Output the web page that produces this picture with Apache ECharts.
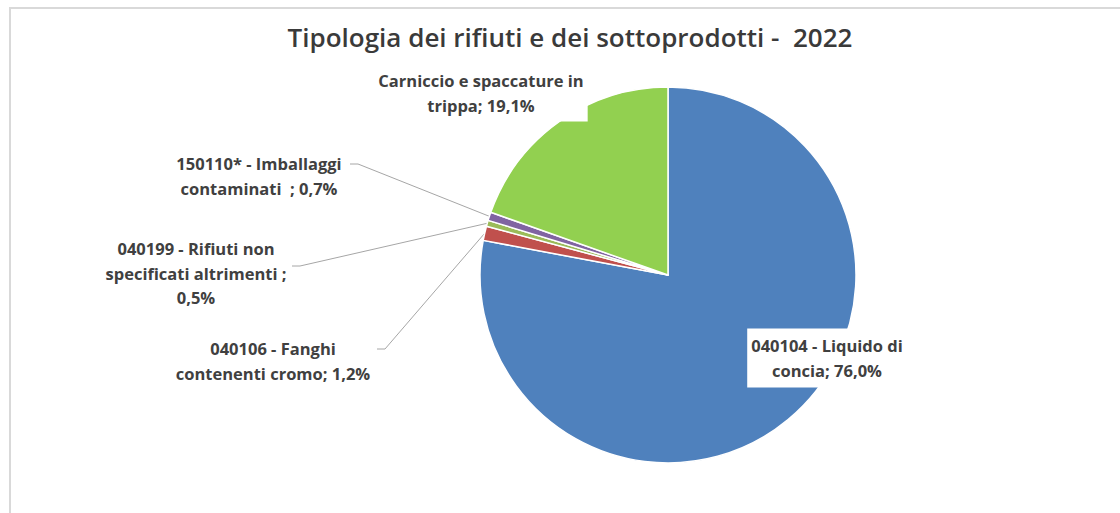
<!DOCTYPE html>
<html>
<head>
<meta charset="utf-8">
<script src="https://cdn.jsdelivr.net/npm/echarts@6/dist/echarts.min.js"></script>
<style>
  html, body { margin: 0; padding: 0; background: #fff; overflow: hidden; }
  #frame { position: absolute; left: 9px; top: 7px; width: 1200px; height: 600px;
           border-top: 2px solid #d9d9d9; border-left: 2px solid #d9d9d9; }
  #chart { position: absolute; left: 0; top: 0; width: 1120px; height: 513px; }
</style>
</head>
<body>
<div id="frame"></div>
<div id="chart"></div>
<script>
  // --- data ---
  var titleText = 'Tipologia dei rifiuti e dei sottoprodotti -  2022';
  var categories = [
    '040104 - Liquido di concia',
    '040106 - Fanghi contenenti cromo',
    '040199 - Rifiuti non specificati altrimenti',
    '150110* - Imballaggi contaminati',
    'Carniccio e spaccature in trippa'
  ];
  var values = [76.0, 1.2, 0.5, 0.7, 19.1];
  var labelHeads = [
    '040104 - Liquido di\nconcia; ',
    '040106 - Fanghi\ncontenenti cromo; ',
    '040199 - Rifiuti non\nspecificati altrimenti ;\n',
    '150110* - Imballaggi\ncontaminati  ; ',
    'Carniccio e spaccature in\ntrippa; '
  ];
  var colors = ['#4f81bd', '#c0504d', '#9bbb59', '#8064a2', '#92d050'];

  // label placement (centre of each label) and leader line start
  var labelPos = [[827, 358], [273, 361], [196, 273], [259, 176], [481, 93]];
  var lineStart = [null, [377, 349], [292, 266], [350, 164], null];

  var ink = '#404040';
  var chart = echarts.init(document.getElementById('chart'), null, { renderer: 'svg' });

  var pieData = categories.map(function(name, i) {
    var d = { name: name, value: values[i], itemStyle: { color: colors[i] } };
    if (i === 0) {
      d.label = { backgroundColor: '#fff', padding: [8, 4, 2, 4] };
      d.labelLine = { show: false };
    }
    if (i === 4) {
      d.label = { backgroundColor: '#fff', padding: [8, 4, 0, 4] };
      d.labelLine = { show: false };
    }
    return d;
  });

  chart.setOption({
    animation: false,
    title: {
      text: titleText,
      left: 570,
      top: 24,
      padding: 0,
      textAlign: 'center',
      textStyle: { fontFamily: 'Open Sans', fontSize: 26, fontWeight: 600, color: '#3a3a3a' }
    },
    series: [{
      type: 'pie',
      center: [668, 275],
      radius: 188,
      startAngle: 90,
      clockwise: true,
      avoidLabelOverlap: false,
      itemStyle: { borderColor: '#fff', borderWidth: 1.5 },
      label: {
        show: true,
        position: 'outside',
        fontFamily: 'Open Sans',
        fontWeight: 'bold',
        fontSize: 16.5,
        lineHeight: 24.5,
        color: ink,
        align: 'center',
        formatter: function(p) {
          return labelHeads[p.dataIndex] + p.value.toFixed(1).replace('.', ',') + '%';
        }
      },
      labelLine: {
        show: true,
        lineStyle: { color: '#a6a6a6', width: 1 }
      },
      labelLayout: function(params) {
        var i = params.dataIndex;
        var out = {
          x: labelPos[i][0],
          y: labelPos[i][1],
          align: 'center',
          verticalAlign: 'middle'
        };
        var s = lineStart[i];
        if (s && params.labelLinePoints) {
          var edge = params.labelLinePoints[0];
          out.labelLinePoints = [edge, [s[0] + 8, s[1]], s];
        }
        return out;
      },
      data: pieData
    }]
  });
  window.addEventListener('resize', function() { chart.resize(); });
</script>
</body>
</html>
